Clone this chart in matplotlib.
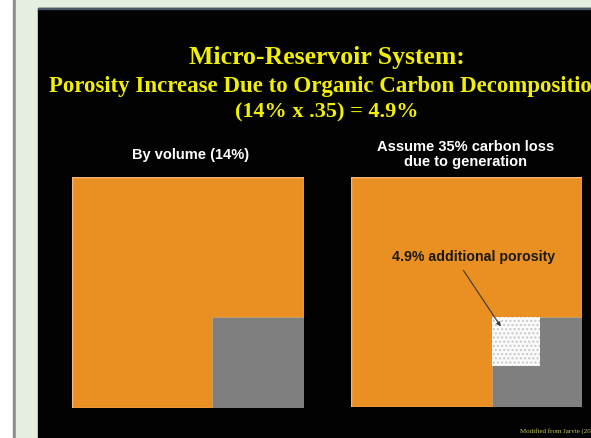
import numpy as np
import matplotlib
matplotlib.use('Agg')
from matplotlib import pyplot as plt
from matplotlib.patches import Rectangle

# values
organic_pct = 14          # organic carbon by volume (%)
carbon_loss = 0.35        # fraction lost to generation
porosity_pct = 4.9        # resulting additional porosity (%)

panel_titles = ['By volume (14%)', 'Assume 35% carbon loss\ndue to generation']
# side of each inner square as a fraction of the rock square
organic_side = [0.395, 0.39]
pore_side = [0.0, 0.21]

W, H = 591, 438
fig = plt.figure(figsize=(W / 100, H / 100), dpi=100)
fig.patch.set_facecolor('white')

def px(x0, y0, w, h):
    # pixel box (top-left origin) -> figure fraction
    return [x0 / W, 1 - (y0 + h) / H, w / W, h / H]

# page background, grey rule and black slide
bg = fig.add_axes([0, 0, 1, 1])
bg.set_xlim(0, W)
bg.set_ylim(H, 0)
bg.axis('off')
bg.add_patch(Rectangle((13, 0), 2.5, H, color='#8c8c8c'))
bg.add_patch(Rectangle((15.5, 0), W, H, color='#e4efdf'))
bg.add_patch(Rectangle((38, 8), W, H, color='#020202'))
bg.add_patch(Rectangle((38, 7.5), W, 1.5, color='#4a5566'))

yellow = '#f2f000'
serif = ['Liberation Serif', 'DejaVu Serif']
cx = 327
bg.text(cx, 64, 'Micro-Reservoir System:', color=yellow, fontsize=18.5,
        fontweight='bold', family=serif, ha='center', va='baseline')
bg.text(cx, 92, 'Porosity Increase Due to Organic Carbon Decomposition',
        color=yellow, fontsize=16.5, fontweight='bold', family=serif,
        ha='center', va='baseline')
bg.text(cx, 117, '(%d%% x .%d) = %.1f%%' % (organic_pct, carbon_loss * 100, porosity_pct),
        color=yellow, fontsize=16, fontweight='bold', family=serif,
        ha='center', va='baseline')
bg.text(520, 434, 'Modified from Jarvie (2008)', color='#c8c860', fontsize=5,
        family=serif, ha='left', va='bottom')

sans = ['Liberation Sans', 'DejaVu Sans']
orange = '#ea8f22'
grey = '#7f7f7f'
boxes = [(72, 177, 232, 231), (351, 177, 231, 230)]
title_x = [191, 466]
title_y = [159, 166]

for i, (x0, y0, w, h) in enumerate(boxes):
    ax = fig.add_axes(px(x0, y0, w, h))
    ax.set_xlim(0, 1)
    ax.set_ylim(0, 1)
    ax.axis('off')
    ax.add_patch(Rectangle((0, 0), 1, 1, facecolor=orange,
                           edgecolor='#f3b87a', linewidth=1.0))
    s = organic_side[i]
    ax.add_patch(Rectangle((1 - s, 0), s, s, facecolor=grey,
                           edgecolor='#c8a070', linewidth=0.6))
    p = pore_side[i]
    if p > 0:
        ax.add_patch(Rectangle((1 - s, s - p), p, p, facecolor='#fafafa',
                               edgecolor='#c8c8c8', hatch='....',
                               linewidth=0))
        ax.text(0.53, 0.652, '%.1f%% additional porosity' % porosity_pct,
                fontsize=10.2, fontweight='bold', family=sans, color='#1a1a1a',
                ha='center', va='center')
        ax.annotate('', xy=(1 - s + 0.045, s - 0.05), xytext=(0.48, 0.604),
                    arrowprops=dict(arrowstyle='-|>', color='#3a3a3a',
                                    lw=0.8, mutation_scale=6))
    bg.text(title_x[i], title_y[i], panel_titles[i], color='white',
            fontsize=10.5, fontweight='bold', family=sans, ha='center',
            va='baseline', linespacing=1.05)

fig.savefig('out.png', dpi=100)
